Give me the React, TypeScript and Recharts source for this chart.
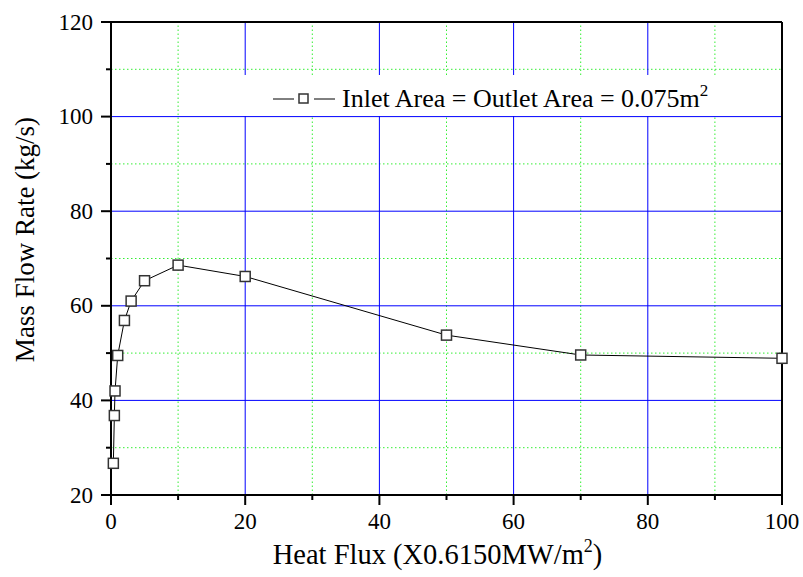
import React from 'react';
import { LineChart, Line, XAxis, YAxis, ReferenceLine, Legend } from 'recharts';

const heatFlux = [0.35, 0.5, 0.6, 1, 2, 3, 5, 10, 20, 50, 70, 100];
const massFlow = [26.7, 36.8, 42, 49.5, 56.9, 61, 65.3, 68.6, 66.2, 53.8, 49.6, 48.9];
const xTicks = [0, 10, 20, 30, 40, 50, 60, 70, 80, 90, 100];
const yTicks = [20, 30, 40, 50, 60, 70, 80, 90, 100, 110, 120];
const xMajorGrid = [20, 40, 60, 80];
const xMinorGrid = [10, 30, 50, 70, 90];
const yMajorGrid = [40, 60, 80, 100];
const yMinorGrid = [30, 50, 70, 90, 110];
const seriesName = 'Inlet Area = Outlet Area = 0.075m';

const data = heatFlux.map((x, i) => ({ x, y: massFlow[i] }));

const FONT = "'Liberation Serif', 'Times New Roman', Tinos, 'DejaVu Serif', serif";
const TICK = 10;
const MARGIN = 8;

function XTick(props: any) {
  const { x, y, payload } = props;
  const axisY = y - TICK - MARGIN;
  const major = payload.value % 20 === 0;
  return (
    <g>
      <line x1={x} x2={x} y1={axisY} y2={axisY + (major ? TICK : 5)} stroke="#000" strokeWidth={2} />
      {major && (
        <text x={x} y={y} dy="0.71em" textAnchor="middle" style={{ fontFamily: FONT, fontSize: 23 }} fill="#000">
          {payload.value}
        </text>
      )}
    </g>
  );
}

function YTick(props: any) {
  const { x, y, payload } = props;
  const axisX = x + TICK + MARGIN;
  const major = payload.value % 20 === 0;
  return (
    <g>
      <line x1={axisX} x2={axisX - (major ? TICK : 5)} y1={y} y2={y} stroke="#000" strokeWidth={2} />
      {major && (
        <text x={x} y={y} dy="0.33em" textAnchor="end" style={{ fontFamily: FONT, fontSize: 23 }} fill="#000">
          {payload.value}
        </text>
      )}
    </g>
  );
}

function SquareDot(props: any) {
  const { cx, cy } = props;
  if (cx == null || cy == null) return null;
  return <rect x={cx - 5} y={cy - 5} width={10} height={10} fill="#fff" stroke="#333" strokeWidth={1.5} />;
}

function LegendBox() {
  return (
    <svg width={549} height={41} style={{ display: 'block' }}>
      <line x1={41} x2={62} y1={24} y2={24} stroke="#000" strokeWidth={1} />
      <rect x={67} y={19} width={9} height={9} fill="#fff" stroke="#333" strokeWidth={1.5} />
      <line x1={82} x2={103} y1={24} y2={24} stroke="#000" strokeWidth={1} />
      <text x={110} y={32} style={{ fontFamily: FONT, fontSize: 26 }} fill="#000">
        {seriesName}
        <tspan dy={-11} style={{ fontSize: 17 }}>2</tspan>
      </text>
    </svg>
  );
}

export default function App() {
  return (
    <div style={{ position: 'absolute', left: 0, top: 0, background: '#fff', fontFamily: FONT }}>
      <LineChart width={803} height={577} data={data} margin={{ top: 22, right: 21, bottom: 0, left: 0 }}>
        {xMinorGrid.map((v) => (
          <ReferenceLine key={'xm' + v} x={v} stroke="#33ee33" strokeDasharray="1.5 2.5" />
        ))}
        {yMinorGrid.map((v) => (
          <ReferenceLine key={'ym' + v} y={v} stroke="#33ee33" strokeDasharray="1.5 2.5" />
        ))}
        {xMajorGrid.map((v) => (
          <ReferenceLine key={'xM' + v} x={v} stroke="#0000ff" />
        ))}
        {yMajorGrid.map((v) => (
          <ReferenceLine key={'yM' + v} y={v} stroke="#0000ff" />
        ))}
        <ReferenceLine y={120} stroke="#000" strokeWidth={2} />
        <ReferenceLine x={100} stroke="#000" strokeWidth={2} />
        <XAxis
          dataKey="x"
          type="number"
          domain={[0, 100]}
          ticks={xTicks}
          interval={0}
          height={82}
          tickSize={TICK}
          tickMargin={MARGIN}
          tickLine={false}
          tick={<XTick />}
          axisLine={{ stroke: '#000', strokeWidth: 2 }}
          label={(p: any) => {
            const vb = p.viewBox;
            return (
              <text x={vb.x + vb.width / 2 - 9} y={vb.y + 69} textAnchor="middle" style={{ fontFamily: FONT, fontSize: 28.5 }} fill="#000">
                Heat Flux (X0.6150MW/m
                <tspan dy={-12} style={{ fontSize: 18 }}>2</tspan>
                <tspan dy={12}>)</tspan>
              </text>
            );
          }}
        />
        <YAxis
          type="number"
          domain={[20, 120]}
          ticks={yTicks}
          interval={0}
          width={111}
          tickSize={TICK}
          tickMargin={MARGIN}
          tickLine={false}
          tick={<YTick />}
          axisLine={{ stroke: '#000', strokeWidth: 2 }}
          label={(p: any) => {
            const vb = p.viewBox;
            const cx = vb.x + 25;
            const cy = vb.y + vb.height / 2 - 19;
            return (
              <text x={cx} y={cy} dy="0.33em" transform={`rotate(-90 ${cx} ${cy})`} textAnchor="middle" style={{ fontFamily: FONT, fontSize: 27 }} fill="#000">
                Mass Flow Rate (kg/s)
              </text>
            );
          }}
        />
        <Legend
          layout="vertical"
          align="center"
          verticalAlign="middle"
          content={() => <LegendBox />}
          wrapperStyle={{ left: 232, top: 75, width: 549, height: 41, background: '#fff' }}
        />
        <Line
          dataKey="y"
          name={seriesName}
          stroke="#000"
          strokeWidth={1}
          dot={<SquareDot />}
          isAnimationActive={false}
        />
      </LineChart>
    </div>
  );
}
